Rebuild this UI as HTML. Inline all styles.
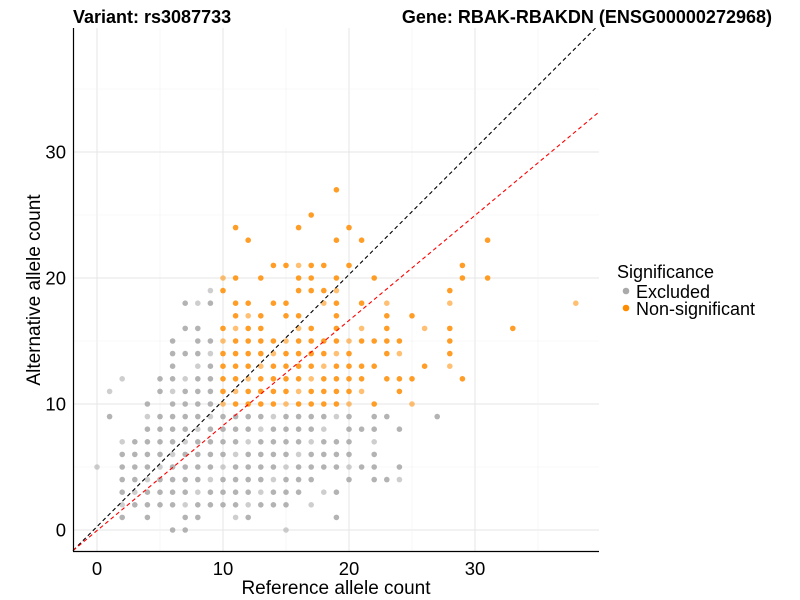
<!DOCTYPE html>
<html><head><meta charset="utf-8"><style>
html,body{margin:0;padding:0;background:#fff;}
svg{display:block;font-family:"Liberation Sans",sans-serif;}
</style></head><body>
<svg id="s" width="800" height="600" viewBox="0 0 800 600" xmlns="http://www.w3.org/2000/svg">
<rect width="800" height="600" fill="#fff"/>
<g id="grid"></g>
<g id="pts"></g>
<line x1="73" y1="550.6" x2="599" y2="24.6" stroke="#000" stroke-width="1.1" stroke-dasharray="4,3"/>
<line x1="73" y1="550.6" x2="599" y2="112" stroke="#ff0000" stroke-width="1.1" stroke-dasharray="4,3"/>
<rect x="600" y="0" width="200" height="600" fill="#fff"/>
<rect x="0" y="0" width="800" height="28" fill="#fff"/>
<line x1="73.5" y1="28" x2="73.5" y2="551.5" stroke="#000" stroke-width="1.2"/>
<line x1="73" y1="551.5" x2="599" y2="551.5" stroke="#000" stroke-width="1.2"/>
<g id="ticks" font-size="18.5" fill="#000"></g>
<text x="73" y="23" font-size="18" font-weight="bold">Variant: rs3087733</text>
<text x="772" y="23" font-size="18" font-weight="bold" text-anchor="end">Gene: RBAK-RBAKDN (ENSG00000272968)</text>
<text x="336" y="594" font-size="19" text-anchor="middle">Reference allele count</text>
<text transform="translate(40,290) rotate(-90)" font-size="19" text-anchor="middle">Alternative allele count</text>
<text x="617" y="278" font-size="18">Significance</text>
<circle cx="626" cy="291" r="3.3" fill="#aaaaaa"/>
<text x="636" y="298" font-size="18">Excluded</text>
<circle cx="626" cy="308" r="3.3" fill="#ff8c00"/>
<text x="636" y="315" font-size="18">Non-significant</text>
</svg>
<script>
var NS="http://www.w3.org/2000/svg";
function px(x){return 97+12.6*x;} function py(y){return 530-12.6*y;}
function el(p,t,a){var e=document.createElementNS(NS,t);for(var k in a)e.setAttribute(k,a[k]);document.getElementById(p).appendChild(e);return e;}
for(var v=0;v<=35;v+=5){var maj=v%10==0;
 el("grid","line",{x1:px(v),y1:28,x2:px(v),y2:551,stroke:maj?"#e6e6e6":"#f2f2f2","stroke-width":maj?1:0.6});
 el("grid","line",{x1:73,y1:py(v),x2:599,y2:py(v),stroke:maj?"#e6e6e6":"#f2f2f2","stroke-width":maj?1:0.6});}
for(var v=0;v<=30;v+=10){
 var t=el("ticks","text",{x:px(v),y:575,"text-anchor":"middle"});t.textContent=v;
 var t2=el("ticks","text",{x:66,y:py(v)+6.5,"text-anchor":"end"});t2.textContent=v;}
function R(a,b){var r=[];for(var i=a;i<=b;i++)r.push(i);return r;}
var gray={19:[9],18:[7,8,9],16:[7,8],15:[6,8,9],14:[6,7,8,9],13:[6,8,9],12:[2,5,6,7,8,9],11:[1,5,6,7,8,9],10:[4,6,7,8,9],
9:[1].concat(R(4,20),[22,23,27]),8:R(4,18).concat([20,21,22,24]),7:R(2,20).concat([22]),6:R(2,20).concat([22]),
5:[0].concat(R(2,22),[24]),4:R(2,17).concat([20,22,23,24]),3:R(2,16).concat([18,19]),2:R(2,15).concat([17]),
1:[2,4,7,8,11,12,19],0:[6,7,15]};
var org={27:[19],25:[17],24:[11,16,20],23:[12,19,21,31],21:[14,15,16,17,18,20,29],20:[10,11,13,16,17,19,22,29,31],
19:[10,16,17,18,19,28],18:[11,12,14,15,18,19,21,23,28,38],17:[11,12,13,15,16,19,23,25],
16:[10,11,12,13,16,17,19,21,23,26,28,33],15:R(10,24).concat([28]),14:R(10,20).concat([23,24,28]),
13:R(10,22).concat([26,28]),12:R(10,21).concat([23,24,25,29]),11:R(10,21).concat([24]),10:R(10,20).concat([22,25])};
function draw(d,c){for(var y in d){d[y].forEach(function(x,i){var o=((x*7+y*3)%5==0)?0.55:0.85;
 el("pts","circle",{cx:px(x),cy:py(+y),r:2.8,fill:c,"fill-opacity":o});});}}
draw(gray,"#a6a6a6");draw(org,"#ff8c00");
</script>
</body></html>
